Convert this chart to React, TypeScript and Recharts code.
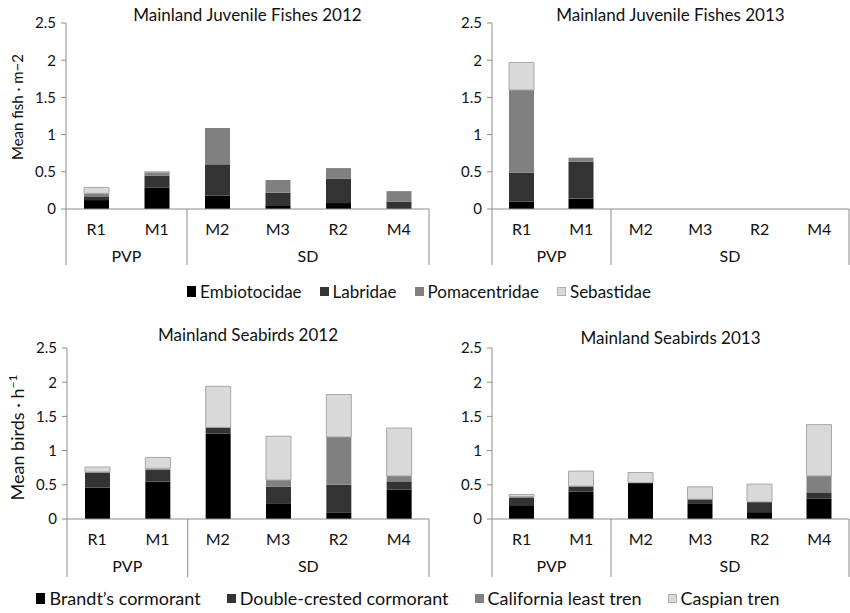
import React from 'react';
import { BarChart, Bar, XAxis, YAxis } from 'recharts';

// sites along the x axis and the region each one belongs to
const sites = ['R1', 'M1', 'M2', 'M3', 'R2', 'M4'];
const siteGroups = ['PVP', 'PVP', 'SD', 'SD', 'SD', 'SD'];
const yTicks = [0, 0.5, 1, 1.5, 2, 2.5];

const fishFamilies = ['Embiotocidae', 'Labridae', 'Pomacentridae', 'Sebastidae'];
const birdSpecies = ['Brandt\u2019s cormorant', 'Double-crested cormorant', 'California least tren', 'Caspian tren'];
const seriesColors = ['#000000', '#333333', '#808080', '#d9d9d9'];

// fish, mean per m2
const embiotocidae2012 = [0.12, 0.29, 0.18, 0.04, 0.08, 0.01];
const labridae2012 = [0.05, 0.16, 0.42, 0.18, 0.33, 0.09];
const pomacentridae2012 = [0.04, 0.04, 0.49, 0.17, 0.14, 0.14];
const sebastidae2012 = [0.08, 0.01, 0, 0, 0, 0];

const embiotocidae2013 = [0.1, 0.14, 0, 0, 0, 0];
const labridae2013 = [0.39, 0.5, 0, 0, 0, 0];
const pomacentridae2013 = [1.11, 0.05, 0, 0, 0, 0];
const sebastidae2013 = [0.37, 0, 0, 0, 0, 0];

// birds, mean per hour
const brandts2012 = [0.46, 0.55, 1.25, 0.22, 0.09, 0.43];
const doubleCrested2012 = [0.22, 0.17, 0.09, 0.25, 0.41, 0.12];
const leastTern2012 = [0.01, 0.02, 0, 0.1, 0.7, 0.08];
const caspian2012 = [0.07, 0.16, 0.6, 0.64, 0.62, 0.7];

const brandts2013 = [0.19, 0.4, 0.53, 0.23, 0.1, 0.3];
const doubleCrested2013 = [0.12, 0.08, 0, 0.06, 0.15, 0.08];
const leastTern2013 = [0.02, 0, 0, 0, 0, 0.25];
const caspian2013 = [0.03, 0.22, 0.15, 0.18, 0.26, 0.75];

const FONT = 'Lato, "Open Sans", sans-serif';
const AXIS_GRAY = '#8c8c8c';
const TEXT = '#111111';

function buildRows(names: string[], series: number[][]) {
  return sites.map((site, i) => {
    const row: Record<string, string | number> = { site };
    names.forEach((n, k) => {
      row[n] = series[k][i];
    });
    return row;
  });
}

// site label plus the PVP / SD group row and its divider lines
function SiteTick(props: any) {
  const { x, y, payload, band, depth } = props;
  const i = payload.index;
  const group = siteGroups[i];
  const isFirst = i === 0 || siteGroups[i - 1] !== group;
  let count = 0;
  if (isFirst) {
    for (let j = i; j < siteGroups.length && siteGroups[j] === group; j++) count++;
  }
  const leftEdge = x - band / 2;
  return (
    <g>
      <text x={x} y={y + 26} textAnchor="middle" fontSize={16} fill={TEXT} fontFamily={FONT}>
        {payload.value}
      </text>
      {isFirst && <line x1={leftEdge} x2={leftEdge} y1={y} y2={y + depth} stroke={AXIS_GRAY} />}
      {isFirst && (
        <text x={leftEdge + (count * band) / 2} y={y + 53} textAnchor="middle" fontSize={16} fill={TEXT} fontFamily={FONT}>
          {group}
        </text>
      )}
      {i === sites.length - 1 && (
        <line x1={x + band / 2} x2={x + band / 2} y1={y} y2={y + depth} stroke={AXIS_GRAY} />
      )}
    </g>
  );
}

type PanelProps = {
  title: string;
  names: string[];
  series: number[][];
  left: number;
  top: number;
  width: number;
  height: number;
  axisWidth: number;
  marginTop: number;
  axisHeight: number;
  titleY: number;
  yLabel?: React.ReactNode;
  yLabelSize?: number;
  yLabelShift?: number;
};

function Panel(p: PanelProps) {
  const rows = buildRows(p.names, p.series);
  const plotW = p.width - p.axisWidth - 1;
  const band = plotW / sites.length;
  return (
    <div style={{ position: 'absolute', left: p.left, top: p.top, width: p.width, height: p.height }}>
      <BarChart width={p.width} height={p.height} data={rows} margin={{ top: p.marginTop, right: 1, left: 0, bottom: 0 }}>
        <XAxis
          dataKey="site"
          interval={0}
          tickLine={false}
          tickSize={0}
          tickMargin={0}
          height={p.axisHeight}
          stroke={AXIS_GRAY}
          tick={(t: any) => <SiteTick {...t} band={band} depth={p.axisHeight} />}
        />
        <YAxis
          width={p.axisWidth}
          domain={[0, 2.5]}
          ticks={yTicks}
          stroke={AXIS_GRAY}
          tickSize={5}
          tickMargin={5}
          tick={{ fill: TEXT, fontSize: 15, fontFamily: FONT }}
          label={
            p.yLabel
              ? {
                  content: (lp: any) => {
                    const vb = lp.viewBox || { y: 0, height: 0 };
                    const cy = vb.y + vb.height / 2 + (p.yLabelShift || 0);
                    return (
                      <text
                        x={0}
                        y={0}
                        transform={`translate(${18 + (p.yLabelSize || 15) / 3}, ${cy}) rotate(-90)`}
                        textAnchor="middle"
                        fontSize={p.yLabelSize || 15}
                        fill={TEXT}
                        fontFamily={FONT}
                      >
                        {p.yLabel}
                      </text>
                    );
                  },
                }
              : undefined
          }
        />
        {p.names.map((n, k) => (
          <Bar
            key={n}
            dataKey={n}
            stackId="a"
            fill={seriesColors[k]}
            stroke={k === 3 ? '#a8a8a8' : undefined}
            barSize={25}
            isAnimationActive={false}
          />
        ))}
      </BarChart>
      <div
        style={{
          position: 'absolute',
          left: p.axisWidth,
          width: plotW,
          top: p.titleY - 11,
          textAlign: 'center',
          fontSize: 17,
          lineHeight: '22px',
          fontFamily: FONT,
          color: TEXT,
          whiteSpace: 'nowrap',
        }}
      >
        {p.title}
      </div>
    </div>
  );
}

function SeriesLegend({ names, top, width, fontSize, gap }: { names: string[]; top: number; width: number; fontSize: number; gap: number }) {
  return (
    <div
      style={{
        position: 'absolute',
        left: 0,
        top,
        width,
        display: 'flex',
        justifyContent: 'center',
        alignItems: 'center',
        fontFamily: FONT,
        fontSize,
        color: TEXT,
        whiteSpace: 'nowrap',
      }}
    >
      {names.map((n, k) => (
        <div key={n} style={{ display: 'flex', alignItems: 'center', marginRight: k < names.length - 1 ? gap : 0 }}>
          <span
            style={{
              display: 'inline-block',
              width: 9,
              height: k === 0 ? 11 : 9,
              background: seriesColors[k],
              border: k === 3 ? '1px solid #b0b0b0' : 'none',
              boxSizing: 'border-box',
              marginRight: 4,
            }}
          />
          <span>{n}</span>
        </div>
      ))}
    </div>
  );
}

export default function App() {
  const fishLabel = 'Mean fish \u00b7 m\u22122';
  const birdLabel = (
    <>
      <tspan>Mean birds {'\u00b7'} h</tspan>
      <tspan dy={-7} fontSize={12}>
        {'\u22121'}
      </tspan>
    </>
  );
  return (
    <div style={{ position: 'absolute', left: 0, top: 0, width: 850, height: 613, background: '#fff', overflow: 'hidden' }}>
      <Panel
        title="Mainland Juvenile Fishes 2012"
        names={fishFamilies}
        series={[embiotocidae2012, labridae2012, pomacentridae2012, sebastidae2012]}
        left={0}
        top={0}
        width={430}
        height={265}
        axisWidth={66}
        marginTop={23}
        axisHeight={56}
        titleY={15}
        yLabel={fishLabel}
        yLabelSize={15}
        yLabelShift={-9}
      />
      <Panel
        title="Mainland Juvenile Fishes 2013"
        names={fishFamilies}
        series={[embiotocidae2013, labridae2013, pomacentridae2013, sebastidae2013]}
        left={430}
        top={0}
        width={420}
        height={265}
        axisWidth={62}
        marginTop={23}
        axisHeight={56}
        titleY={15}
      />
      <SeriesLegend names={fishFamilies} top={281} width={838} fontSize={17} gap={18} />
      <Panel
        title="Mainland Seabirds 2012"
        names={birdSpecies}
        series={[brandts2012, doubleCrested2012, leastTern2012, caspian2012]}
        left={0}
        top={310}
        width={430}
        height={267}
        axisWidth={67}
        marginTop={38}
        axisHeight={58}
        titleY={25}
        yLabel={birdLabel}
        yLabelSize={18}
        yLabelShift={4}
      />
      <Panel
        title="Mainland Seabirds 2013"
        names={birdSpecies}
        series={[brandts2013, doubleCrested2013, leastTern2013, caspian2013]}
        left={430}
        top={310}
        width={420}
        height={267}
        axisWidth={62}
        marginTop={38}
        axisHeight={58}
        titleY={28}
      />
      <SeriesLegend names={birdSpecies} top={587} width={816} fontSize={18} gap={26} />
    </div>
  );
}
